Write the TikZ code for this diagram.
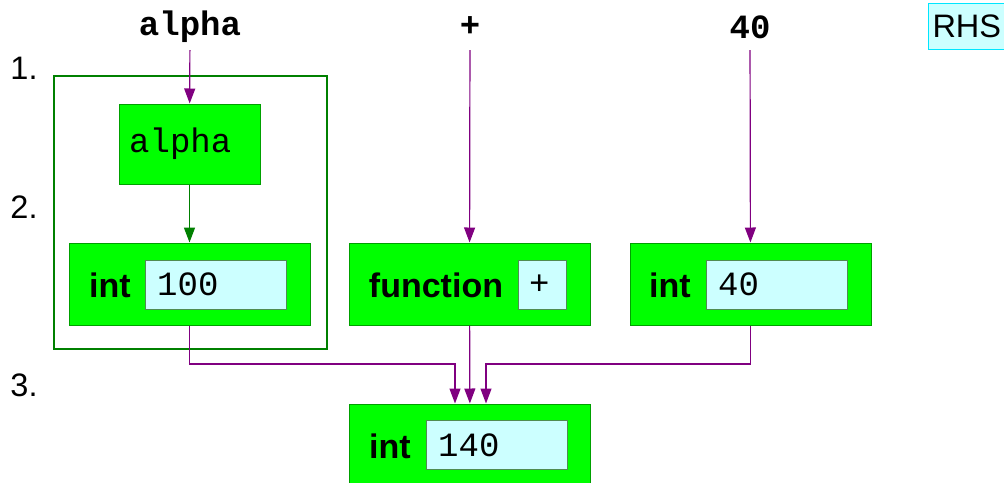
\documentclass[tikz,border=0pt]{standalone}
\usepackage{fontspec}
\setmainfont{Liberation Sans}
\setmonofont{Liberation Mono}
\definecolor{boxgreen}{RGB}{0,255,0}
\definecolor{edgegreen}{RGB}{0,160,0}
\definecolor{framegreen}{RGB}{0,128,0}
\definecolor{cellcyan}{RGB}{204,255,255}
\definecolor{celledge}{RGB}{80,140,80}
\definecolor{linkpurple}{RGB}{128,0,128}
\definecolor{rhscyan}{RGB}{0,230,255}
\usetikzlibrary{arrows.meta,positioning}

\tikzset{
  big/.style={font=\fontsize{32.5}{38}\selectfont},
  head/.style={font=\fontsize{34}{40}\selectfont\ttfamily\bfseries, inner sep=0pt, minimum height=46pt},
  objbox/.style={fill=boxgreen, draw=edgegreen, line width=1pt, inner sep=0pt, minimum width=241pt, minimum height=82pt},
  cell/.style={fill=cellcyan, draw=celledge, line width=1pt, inner sep=0pt, minimum height=49pt},
  celltext/.style={font=\fontsize{34}{40}\selectfont\ttfamily, anchor=west, inner sep=0pt},
  kind/.style={font=\fontsize{34}{40}\selectfont\bfseries, inner sep=0pt},
  flow/.style={draw=linkpurple, line width=1.2pt, -{Triangle[width=11pt,length=15pt]}},
  bind/.style={draw=framegreen, line width=1.5pt, -{Triangle[width=11pt,length=15pt]}}
}

\begin{document}
\begin{tikzpicture}[x=1pt, y=-1pt]
    \useasboundingbox (0,0) rectangle (1004,482);

    % Step numbers
    \node[big] (stepA) at (24,68) {1.};
    \node[big] (stepB) at (24,207) {2.};
    \node[big] (stepC) at (24,385) {3.};

    % Right hand side tag
    \node[big, fill=cellcyan, draw=rhscyan, line width=1pt, anchor=west,
          inner xsep=4pt, minimum height=46pt] (rhs) at (928,26) {RHS};

    % Tokens of the expression
    \node[head] (talpha) at (190,27) {alpha};
    \node[head] (tplus) at (470,27) {+};
    \node[head] (tforty) at (750,27) {40};

    % Name lookup frame
    \node[draw=framegreen, line width=1.5pt, minimum width=273pt, minimum height=273pt] (lookup) at (190.5,212.5) {};

    % Name box
    \node[objbox, minimum width=141pt, minimum height=80pt] (name) at (189.5,144) {};
    \node[celltext] at (129,144) {alpha};

    % Operand objects
    \node[objbox] (obja) at (189.5,284) {};
    \node[kind] at (110,285) {int};
    \node[cell, minimum width=141pt] (cella) at (215.5,284.5) {};
    \node[celltext] at (157,284.5) {100};

    \node[objbox] (objf) at (469.5,284) {};
    \node[kind] at (436,285) {function};
    \node[cell, minimum width=48pt] (cellf) at (542,284.5) {};
    \node[celltext] at (529,284.5) {+};

    \node[objbox] (objb) at (750.5,284) {};
    \node[kind] at (670,285) {int};
    \node[cell, minimum width=141pt] (cellb) at (776.5,284.5) {};
    \node[celltext] at (718,284.5) {40};

    % Result object
    \node[objbox] (res) at (470,445) {};
    \node[kind] at (390,446) {int};
    \node[cell, minimum width=141pt] (cellr) at (496.5,445) {};
    \node[celltext] at (438,445) {140};

    % Evaluation arrows
    \draw[flow] (talpha) -- (name);
    \draw[bind] (name) -- (obja);
    \draw[flow] (tplus) -- (objf);
    \draw[flow] (tforty) -- (objb);

    \draw[flow] (obja.south) |- (455,364) -- ([xshift=-15pt]res.north);
    \draw[flow] (objf) -- (res);
    \draw[flow] (objb.south) |- (486,364) -- ([xshift=16pt]res.north);
\end{tikzpicture}
\end{document}
